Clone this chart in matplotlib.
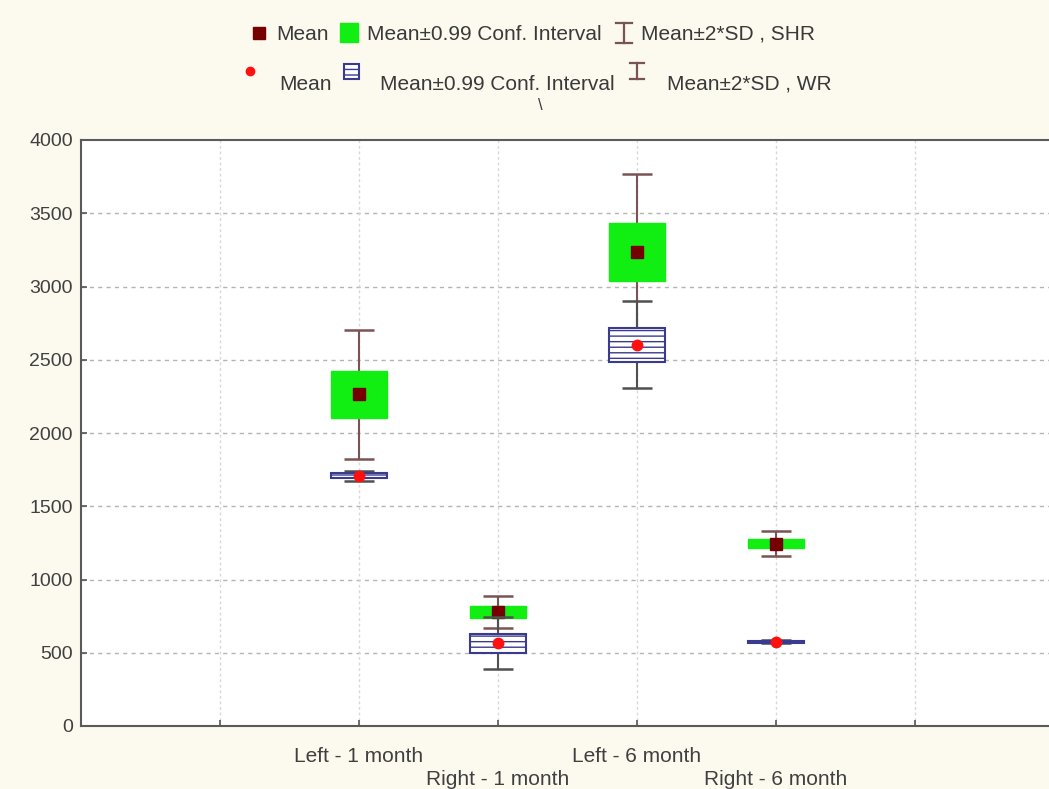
import matplotlib.pyplot as plt
from matplotlib.lines import Line2D
from matplotlib.patches import Rectangle

plt.rcParams['font.family'] = ['Liberation Sans', 'DejaVu Sans']
plt.rcParams['hatch.linewidth'] = 1.0

# group means, 0.99 CI half-widths and 2*SD half-widths
categories = ['Left - 1 month', 'Right - 1 month', 'Left - 6 month', 'Right - 6 month']
shr_mean = [2263, 778, 3234, 1244]
shr_ci = [160, 40, 198, 30]
shr_sd2 = [440, 106, 533, 85]
wr_mean = [1708, 566, 2604, 575]
wr_ci = [17, 65, 116, 6]
wr_sd2 = [36, 178, 298, 9]

W, H = 1049, 789
bg = '#fcf9ee'
shr_whisker = '#7a5454'
wr_whisker = '#505050'
navy = '#3a3a8e'

fig = plt.figure(figsize=(W / 100, H / 100), dpi=100, facecolor=bg)
ax = fig.add_axes([81 / W, 63 / H, 7 * 139 / W, 586 / H])
ax.set_facecolor('white')

x = list(range(2, 2 + len(categories)))

# SHR: whiskers, CI box, mean
ax.errorbar(x, shr_mean, yerr=shr_sd2, fmt='none', ecolor=shr_whisker,
            elinewidth=1.5, capsize=11, capthick=1.8, zorder=3)
ax.bar(x, [2 * c for c in shr_ci], bottom=[m - c for m, c in zip(shr_mean, shr_ci)],
       width=0.4, color='#11ee11', edgecolor='#11ee11', zorder=4)
ax.plot(x, shr_mean, 's', color='#760000', markersize=8.5, zorder=5)

# WR: whiskers, hatched CI box, mean
ax.errorbar(x, wr_mean, yerr=wr_sd2, fmt='none', ecolor=wr_whisker,
            elinewidth=1.5, capsize=11, capthick=1.8, zorder=6)
ax.bar(x, [2 * c for c in wr_ci], bottom=[m - c for m, c in zip(wr_mean, wr_ci)],
       width=0.4, color='white', edgecolor=navy, linewidth=1.5, hatch='---', zorder=7)
ax.plot(x, wr_mean, 'o', color='#ff1010', markersize=7.5, zorder=8)

ax.set_xlim(0, 7)
ax.set_ylim(0, 4000)
ax.set_yticks(range(0, 4001, 500))
ax.set_xticks(range(1, 7))
labels = [''] + [c if i % 2 == 0 else '\n' + c for i, c in enumerate(categories)] + ['']
ax.set_xticklabels(labels, linespacing=1.3, fontsize=15)

for y in range(500, 4000, 500):
    ax.axhline(y, color='#b4b4b4', linewidth=1, linestyle=(0, (3, 3)), zorder=1)
for xv in range(1, 7):
    ax.axvline(xv, color='#d8d8d8', linewidth=1, linestyle=(0, (2, 2)), zorder=1)

ax.tick_params(direction='in', length=4, width=1.2, colors='#555555',
               labelcolor='#404040', labelsize=14)
ax.tick_params(axis='x', pad=15, labelsize=15)
ax.tick_params(axis='y', pad=6)
for s in ax.spines.values():
    s.set_color('#5a5a5a')
    s.set_linewidth(1.5)


# legend drawn in pixel positions
def fp(px, py):
    return px / W, 1 - py / H


def ftext(px, py, s):
    fig.text(*fp(px, py), s, fontsize=15, color='#3a3a3a', ha='left', va='center')


def ibeam(px, y0, y1, half, color):
    for seg in ([(px, y0), (px, y1)], [(px - half, y0), (px + half, y0)],
                [(px - half, y1), (px + half, y1)]):
        (ax0, ay0), (ax1, ay1) = fp(*seg[0]), fp(*seg[1])
        fig.add_artist(Line2D([ax0, ax1], [ay0, ay1], color=color, linewidth=1.6))


# row 1: SHR
fig.add_artist(Line2D([fp(259, 33)[0]], [fp(259, 33)[1]], marker='s', color='#760000',
                      markersize=8, linestyle='none'))
ftext(276, 34, 'Mean')
fig.add_artist(Rectangle(fp(340, 42), 18 / W, 19 / H, color='#11ee11'))
ftext(367, 34, 'Mean±0.99 Conf. Interval')
ibeam(624, 23, 43, 8, shr_whisker)
ftext(641, 34, 'Mean±2*SD , SHR')

# row 2: WR
fig.add_artist(Line2D([fp(250, 71)[0]], [fp(250, 71)[1]], marker='o', color='#ff1010',
                      markersize=6, linestyle='none'))
ftext(279, 84, 'Mean')
fig.add_artist(Rectangle(fp(344, 79), 15 / W, 15 / H, facecolor='white', edgecolor=navy,
                         linewidth=1.5, hatch='---'))
ftext(380, 84, 'Mean±0.99 Conf. Interval')
ibeam(637, 63, 79, 7, shr_whisker)
ftext(667, 84, 'Mean±2*SD , WR')
fig.text(*fp(540, 106), '\\', fontsize=12, color='#3a3a3a', ha='center', va='center')

fig.savefig('out.png', dpi=100, facecolor=bg)
